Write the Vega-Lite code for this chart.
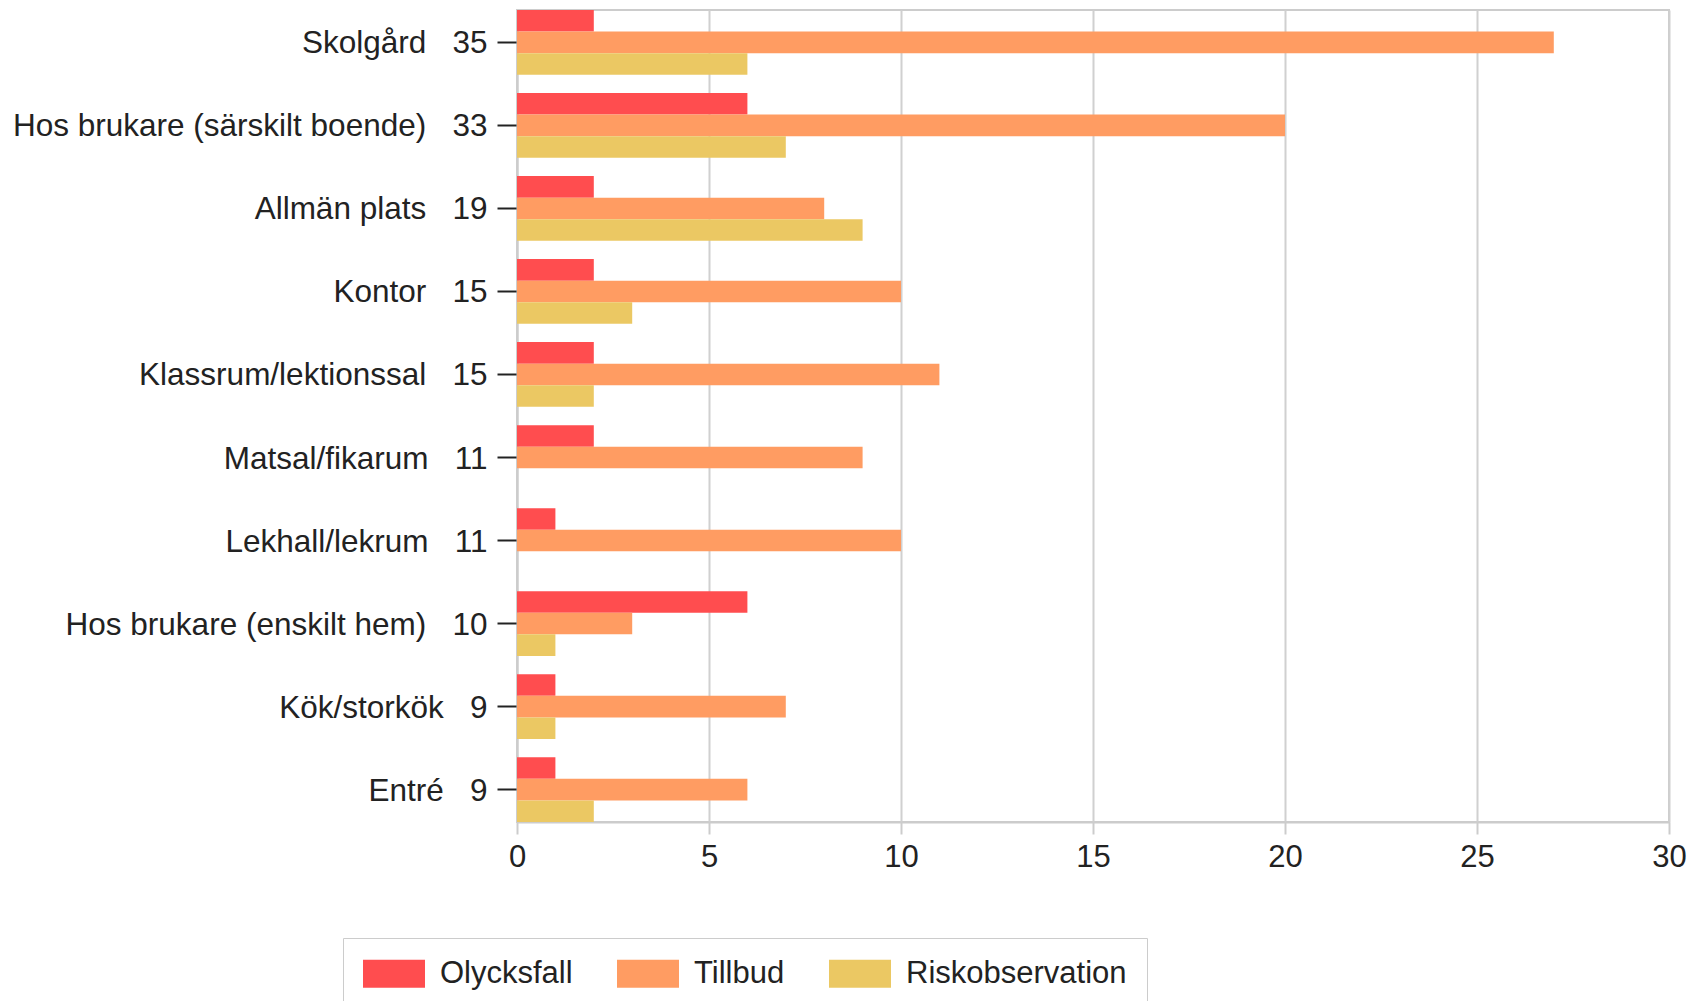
{
  "$schema": "https://vega.github.io/schema/vega-lite/v6.json",
  "autosize": "none",
  "width": 1152,
  "height": 812,
  "padding": {"left": 517, "top": 10, "right": 22, "bottom": 179},
  "background": "white",
  "config": {
    "font": "Liberation Sans",
    "view": {"stroke": "#cccccc", "strokeWidth": 2},
    "axis": {"labelFont": "Liberation Sans", "labelFontSize": 31, "labelColor": "#222222"},
    "legend": {"labelFont": "Liberation Sans", "labelFontSize": 31, "labelColor": "#222222"}
  },
  "data": {
    "values": [
      {"plats": "Skolgård\u00a0\u00a0\u00a035", "ordning": 1, "typ": "Olycksfall", "antal": 2},
      {"plats": "Skolgård\u00a0\u00a0\u00a035", "ordning": 1, "typ": "Tillbud", "antal": 27},
      {"plats": "Skolgård\u00a0\u00a0\u00a035", "ordning": 1, "typ": "Riskobservation", "antal": 6},
      {"plats": "Hos brukare (särskilt boende)\u00a0\u00a0\u00a033", "ordning": 2, "typ": "Olycksfall", "antal": 6},
      {"plats": "Hos brukare (särskilt boende)\u00a0\u00a0\u00a033", "ordning": 2, "typ": "Tillbud", "antal": 20},
      {"plats": "Hos brukare (särskilt boende)\u00a0\u00a0\u00a033", "ordning": 2, "typ": "Riskobservation", "antal": 7},
      {"plats": "Allmän plats\u00a0\u00a0\u00a019", "ordning": 3, "typ": "Olycksfall", "antal": 2},
      {"plats": "Allmän plats\u00a0\u00a0\u00a019", "ordning": 3, "typ": "Tillbud", "antal": 8},
      {"plats": "Allmän plats\u00a0\u00a0\u00a019", "ordning": 3, "typ": "Riskobservation", "antal": 9},
      {"plats": "Kontor\u00a0\u00a0\u00a015", "ordning": 4, "typ": "Olycksfall", "antal": 2},
      {"plats": "Kontor\u00a0\u00a0\u00a015", "ordning": 4, "typ": "Tillbud", "antal": 10},
      {"plats": "Kontor\u00a0\u00a0\u00a015", "ordning": 4, "typ": "Riskobservation", "antal": 3},
      {"plats": "Klassrum/lektionssal\u00a0\u00a0\u00a015", "ordning": 5, "typ": "Olycksfall", "antal": 2},
      {"plats": "Klassrum/lektionssal\u00a0\u00a0\u00a015", "ordning": 5, "typ": "Tillbud", "antal": 11},
      {"plats": "Klassrum/lektionssal\u00a0\u00a0\u00a015", "ordning": 5, "typ": "Riskobservation", "antal": 2},
      {"plats": "Matsal/fikarum\u00a0\u00a0\u00a011", "ordning": 6, "typ": "Olycksfall", "antal": 2},
      {"plats": "Matsal/fikarum\u00a0\u00a0\u00a011", "ordning": 6, "typ": "Tillbud", "antal": 9},
      {"plats": "Matsal/fikarum\u00a0\u00a0\u00a011", "ordning": 6, "typ": "Riskobservation", "antal": 0},
      {"plats": "Lekhall/lekrum\u00a0\u00a0\u00a011", "ordning": 7, "typ": "Olycksfall", "antal": 1},
      {"plats": "Lekhall/lekrum\u00a0\u00a0\u00a011", "ordning": 7, "typ": "Tillbud", "antal": 10},
      {"plats": "Lekhall/lekrum\u00a0\u00a0\u00a011", "ordning": 7, "typ": "Riskobservation", "antal": 0},
      {"plats": "Hos brukare (enskilt hem)\u00a0\u00a0\u00a010", "ordning": 8, "typ": "Olycksfall", "antal": 6},
      {"plats": "Hos brukare (enskilt hem)\u00a0\u00a0\u00a010", "ordning": 8, "typ": "Tillbud", "antal": 3},
      {"plats": "Hos brukare (enskilt hem)\u00a0\u00a0\u00a010", "ordning": 8, "typ": "Riskobservation", "antal": 1},
      {"plats": "Kök/storkök\u00a0\u00a0\u00a09", "ordning": 9, "typ": "Olycksfall", "antal": 1},
      {"plats": "Kök/storkök\u00a0\u00a0\u00a09", "ordning": 9, "typ": "Tillbud", "antal": 7},
      {"plats": "Kök/storkök\u00a0\u00a0\u00a09", "ordning": 9, "typ": "Riskobservation", "antal": 1},
      {"plats": "Entré\u00a0\u00a0\u00a09", "ordning": 10, "typ": "Olycksfall", "antal": 1},
      {"plats": "Entré\u00a0\u00a0\u00a09", "ordning": 10, "typ": "Tillbud", "antal": 6},
      {"plats": "Entré\u00a0\u00a0\u00a09", "ordning": 10, "typ": "Riskobservation", "antal": 2}
    ]
  },
  "mark": {"type": "bar", "opacity": 1},
  "encoding": {
    "y": {
      "field": "plats",
      "type": "nominal",
      "sort": {"field": "ordning", "op": "min", "order": "ascending"},
      "scale": {"paddingInner": 0.22, "paddingOuter": 0},
      "axis": {
        "title": null,
        "tickSize": 20,
        "tickWidth": 2,
        "tickColor": "#222222",
        "domainColor": "#cccccc",
        "domainWidth": 2,
        "labelPadding": 10,
        "labelFontSize": 31.5,
        "labelOffset": 2,
        "labelLimit": 0
      }
    },
    "yOffset": {
      "field": "typ",
      "type": "nominal",
      "sort": ["Olycksfall", "Tillbud", "Riskobservation"],
      "scale": {"paddingInner": 0, "paddingOuter": 0}
    },
    "x": {
      "field": "antal",
      "type": "quantitative",
      "scale": {"domain": [0, 30], "nice": false},
      "axis": {
        "title": null,
        "values": [0, 5, 10, 15, 20, 25, 30],
        "grid": true,
        "gridColor": "#d0d0d0",
        "gridWidth": 2,
        "tickSize": 12,
        "tickWidth": 2,
        "tickColor": "#cccccc",
        "domainColor": "#cccccc",
        "domainWidth": 2,
        "labelPadding": 8,
        "labelFlush": false
      }
    },
    "color": {
      "field": "typ",
      "type": "nominal",
      "sort": ["Olycksfall", "Tillbud", "Riskobservation"],
      "scale": {
        "domain": ["Olycksfall", "Tillbud", "Riskobservation"],
        "range": ["#ff4d4f", "#ff9c62", "#ebc863"]
      },
      "legend": {
        "title": null,
        "orient": "none",
        "direction": "horizontal",
        "legendX": -174,
        "legendY": 928,
        "padding": 20,
        "strokeColor": "#cccccc",
        "symbolType": "M-1,-0.9H3V0.9H-1Z",
        "symbolSize": 961,
        "symbolStrokeWidth": 0,
        "symbolOpacity": 1,
        "labelOffset": 46,
        "labelLimit": 0,
        "columnPadding": 44
      }
    }
  }
}
